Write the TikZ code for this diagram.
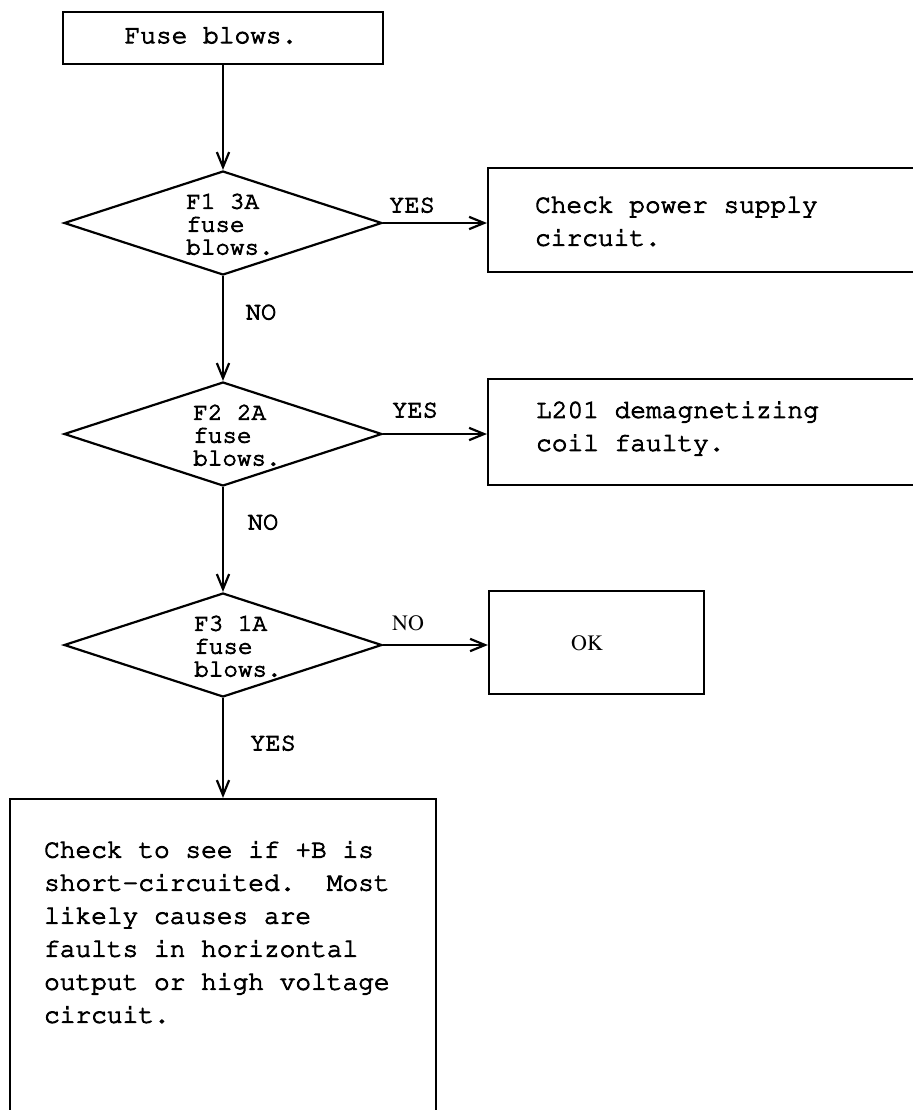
\documentclass[tikz,border=0pt]{standalone}
\usepackage[T1]{fontenc}
\usetikzlibrary{shapes.geometric,arrows.meta}
\newcommand{\courierfont}{\fontfamily{pcr}\selectfont\special{pdf:literal direct 2 Tr 0.5 w}}
\newcommand{\timesfont}{\fontfamily{ptm}\selectfont}

\begin{document}
\begin{tikzpicture}[x=0.02cm, y=-0.02cm, line width=1.25pt,
    flowbox/.style={draw, rectangle, inner sep=0pt},
    decision/.style={draw, diamond, inner sep=0pt, minimum width=6.36cm, minimum height=2.08cm},
    boxtext/.style={font=\fontsize{14.9}{18.8}\courierfont, align=left, inner sep=0pt},
    fusetext/.style={font=\fontsize{13.8}{13}\courierfont, align=left, inner sep=0pt},
    answer/.style={font=\fontsize{14.5}{17}\courierfont, inner sep=0pt},
    flow/.style={-{Straight Barb[length=8.5pt,width=7pt]}}]
    \useasboundingbox (0,0) rectangle (913,1110);
    \clip (0,0) rectangle (913,1110);

    % Start
    \node[flowbox, minimum width=6.4cm, minimum height=1.04cm] (start) at (223,38) {};
    \node[boxtext] (starttext) at (211,35) {Fuse blows.};

    % Fuse checks
    \node[decision] (fa) at (223,223) {};
    \node[fusetext] (fatext) at (230,224) {F1 3A\\fuse\\blows.};
    \node[decision] (fb) at (223,434) {};
    \node[fusetext] (fbtext) at (237,435) {F2 2A\\fuse\\blows.};
    \node[decision] (fc) at (223,645) {};
    \node[fusetext] (fctext) at (238,646) {F3 1A\\fuse\\blows.};

    % Results
    \node[flowbox, minimum width=8.94cm, minimum height=2.08cm] (supply) at (711.5,220) {};
    \node[boxtext, anchor=west] (supplytext) at (534,221) {Check power supply\\circuit.};
    \node[flowbox, minimum width=8.94cm, minimum height=2.12cm] (coil) at (711.5,432) {};
    \node[boxtext, anchor=west] (coiltext) at (535,428) {L201 demagnetizing\\coil faulty.};
    \node[flowbox, minimum width=4.3cm, minimum height=2.06cm] (ok) at (596.5,642.5) {};
    \node[inner sep=0pt, font=\fontsize{12.5}{15}\timesfont] (oktext) at (587,643) {OK};
    \node[flowbox, minimum width=8.52cm, minimum height=6.62cm] (cause) at (223,964.5) {};
    \node[boxtext, anchor=west] (causetext) at (43,932) {Check to see if +B is\\short-circuited.\ \ Most\\likely causes are\\faults in horizontal\\output or high voltage\\circuit.};

    % Connectors
    \draw[flow] (start) -- (fa);
    \draw[flow] (fa) -- (fb);
    \draw[flow] (fb) -- (fc);
    \draw[flow] (fc) -- (cause);
    \draw[flow] (fa.east) -- (fa.east -| supply.west);
    \draw[flow] (fb.east) -- (fb.east -| coil.west);
    \draw[flow] (fc.east) -- (fc.east -| ok.west);

    % Answers
    \node[answer] (yesa) at (412,205) {YES};
    \node[answer] (noa) at (261,312) {NO};
    \node[answer] (yesb) at (415,410) {YES};
    \node[answer] (nob) at (263,522) {NO};
    \node[inner sep=0pt, font=\fontsize{12.5}{15}\timesfont] (noc) at (408,623) {NO};
    \node[answer] (yesc) at (273,743) {YES};
\end{tikzpicture}
\end{document}
